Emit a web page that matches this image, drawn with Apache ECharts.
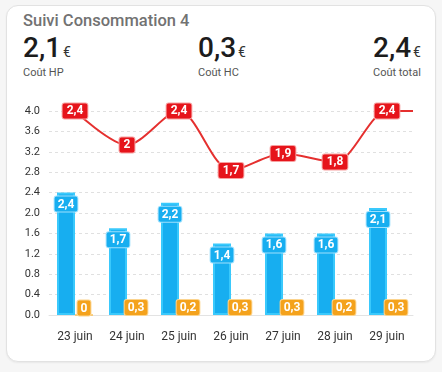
<!DOCTYPE html>
<html>
<head>
<meta charset="utf-8">
<script src="https://cdn.jsdelivr.net/npm/echarts@6/dist/echarts.min.js"></script>
<style>
html,body{margin:0;padding:0;width:442px;height:372px;background:#f6f6f6;overflow:hidden;font-family:Roboto,"Noto Sans",sans-serif;}
#card{position:absolute;left:6px;top:5px;width:428px;height:355px;background:#fff;border:1px solid #e2e2e2;border-radius:12px;box-shadow:0 1px 2px rgba(0,0,0,0.06);}
#chart{position:absolute;left:0;top:0;width:442px;height:372px;}
.title{position:absolute;left:23px;top:13px;font-size:16.5px;line-height:16px;font-weight:500;color:#727272;white-space:nowrap;}
.val{position:absolute;top:34px;font-size:28px;line-height:28px;font-weight:500;color:#1c1c1c;white-space:nowrap;}
.val span{font-size:14px;font-weight:400;color:#333;margin-left:2px;}
.lab{position:absolute;top:67px;font-size:11px;line-height:11px;color:#555;white-space:nowrap;}
</style>
</head>
<body>
<div id="card"></div>
<div class="title">Suivi Consommation 4</div>
<div class="val" style="left:23px">2,1<span>€</span></div>
<div class="lab" style="left:23px">Coût HP</div>
<div class="val" style="left:198px">0,3<span>€</span></div>
<div class="lab" style="left:198px">Coût HC</div>
<div class="val" style="left:373px">2,4<span>€</span></div>
<div class="lab" style="left:373px">Coût total</div>
<div id="chart"></div>
<script>
const categories = ['23 juin','24 juin','25 juin','26 juin','27 juin','28 juin','29 juin'];
const coutHP = [2.4, 1.7, 2.2, 1.4, 1.6, 1.6, 2.1];
const coutHC = [0, 0.3, 0.2, 0.3, 0.3, 0.2, 0.3];
const coutTotal = [2.4, 2, 2.4, 1.7, 1.9, 1.8, 2.4];
const leftTicks = {min: 0, max: 4, interval: 0.4};

const fmt = v => String(v).replace('.', ',');
const lineData = coutTotal.map((v, i) => [i, v]);
lineData.push({value: [categories.length - 0.5, coutTotal[coutTotal.length - 1]], label: {show: false}});

const chart = echarts.init(document.getElementById('chart'), null, {renderer: 'canvas'});
chart.setOption({
  animation: false,
  grid: {left: 49, right: 29, top: 111, bottom: 57},
  xAxis: [
    {type: 'category', data: categories, boundaryGap: true,
     axisLine: {show: true, lineStyle: {color: '#e3e3e3'}},
     axisTick: {show: false},
     axisLabel: {color: '#333', fontSize: 12, margin: 16, fontFamily: 'Roboto'}},
    {type: 'value', min: -0.5, max: categories.length - 0.5, show: false}
  ],
  yAxis: [
    {type: 'value', min: leftTicks.min, max: leftTicks.max, interval: leftTicks.interval,
     axisLine: {show: false}, axisTick: {show: false},
     axisLabel: {color: '#333', fontSize: 11, margin: 9, fontFamily: 'Roboto', formatter: v => v.toFixed(1)},
     splitLine: {lineStyle: {color: '#e0e0e0', type: [3, 3]}}},
    {type: 'value', min: 0, max: 2.4, show: false, splitLine: {show: false}}
  ],
  series: [
    {type: 'bar', name: 'Coût HP', data: coutHP, barWidth: 18, barGap: '0%',
     itemStyle: {color: '#17aef0', borderColor: '#3ac9fc', borderWidth: 2},
     label: {show: true, position: 'insideTop', distance: 4, formatter: p => fmt(p.value),
       color: '#fff', fontWeight: 'bold', fontSize: 12, fontFamily: 'Roboto',
       backgroundColor: '#17aef0', borderColor: '#9fe0fd', borderWidth: 1, borderRadius: 2, padding: [2, 3, 1, 3]}},
    {type: 'bar', name: 'Coût HC', data: coutHC, barWidth: 18,
     itemStyle: {color: '#f6a51d', borderColor: '#fbc25a', borderWidth: 1},
     label: {show: true, position: 'insideBottom', distance: 0, formatter: p => fmt(p.value),
       color: '#fff', fontWeight: 'bold', fontSize: 12, fontFamily: 'Roboto',
       backgroundColor: '#f4a21c', borderColor: '#fcd48e', borderWidth: 1, borderRadius: 2, padding: [2, 3, 1, 3]}},
    {type: 'line', name: 'Coût total', data: lineData, xAxisIndex: 1, yAxisIndex: 1,
     smooth: 0.3, symbol: 'circle', symbolSize: 2, showSymbol: true, z: 5,
     itemStyle: {color: 'rgba(229,48,47,0)'},
     lineStyle: {color: '#e5302f', width: 2},
     label: {show: true, position: 'inside', formatter: p => fmt(p.value[1]),
       color: '#fff', fontWeight: 'bold', fontSize: 12, fontFamily: 'Roboto',
       backgroundColor: '#e6141b', borderColor: '#f7a0a0', borderWidth: 1, borderRadius: 2, padding: [2, 4, 1, 4]}}
  ]
});
</script>
</body>
</html>
